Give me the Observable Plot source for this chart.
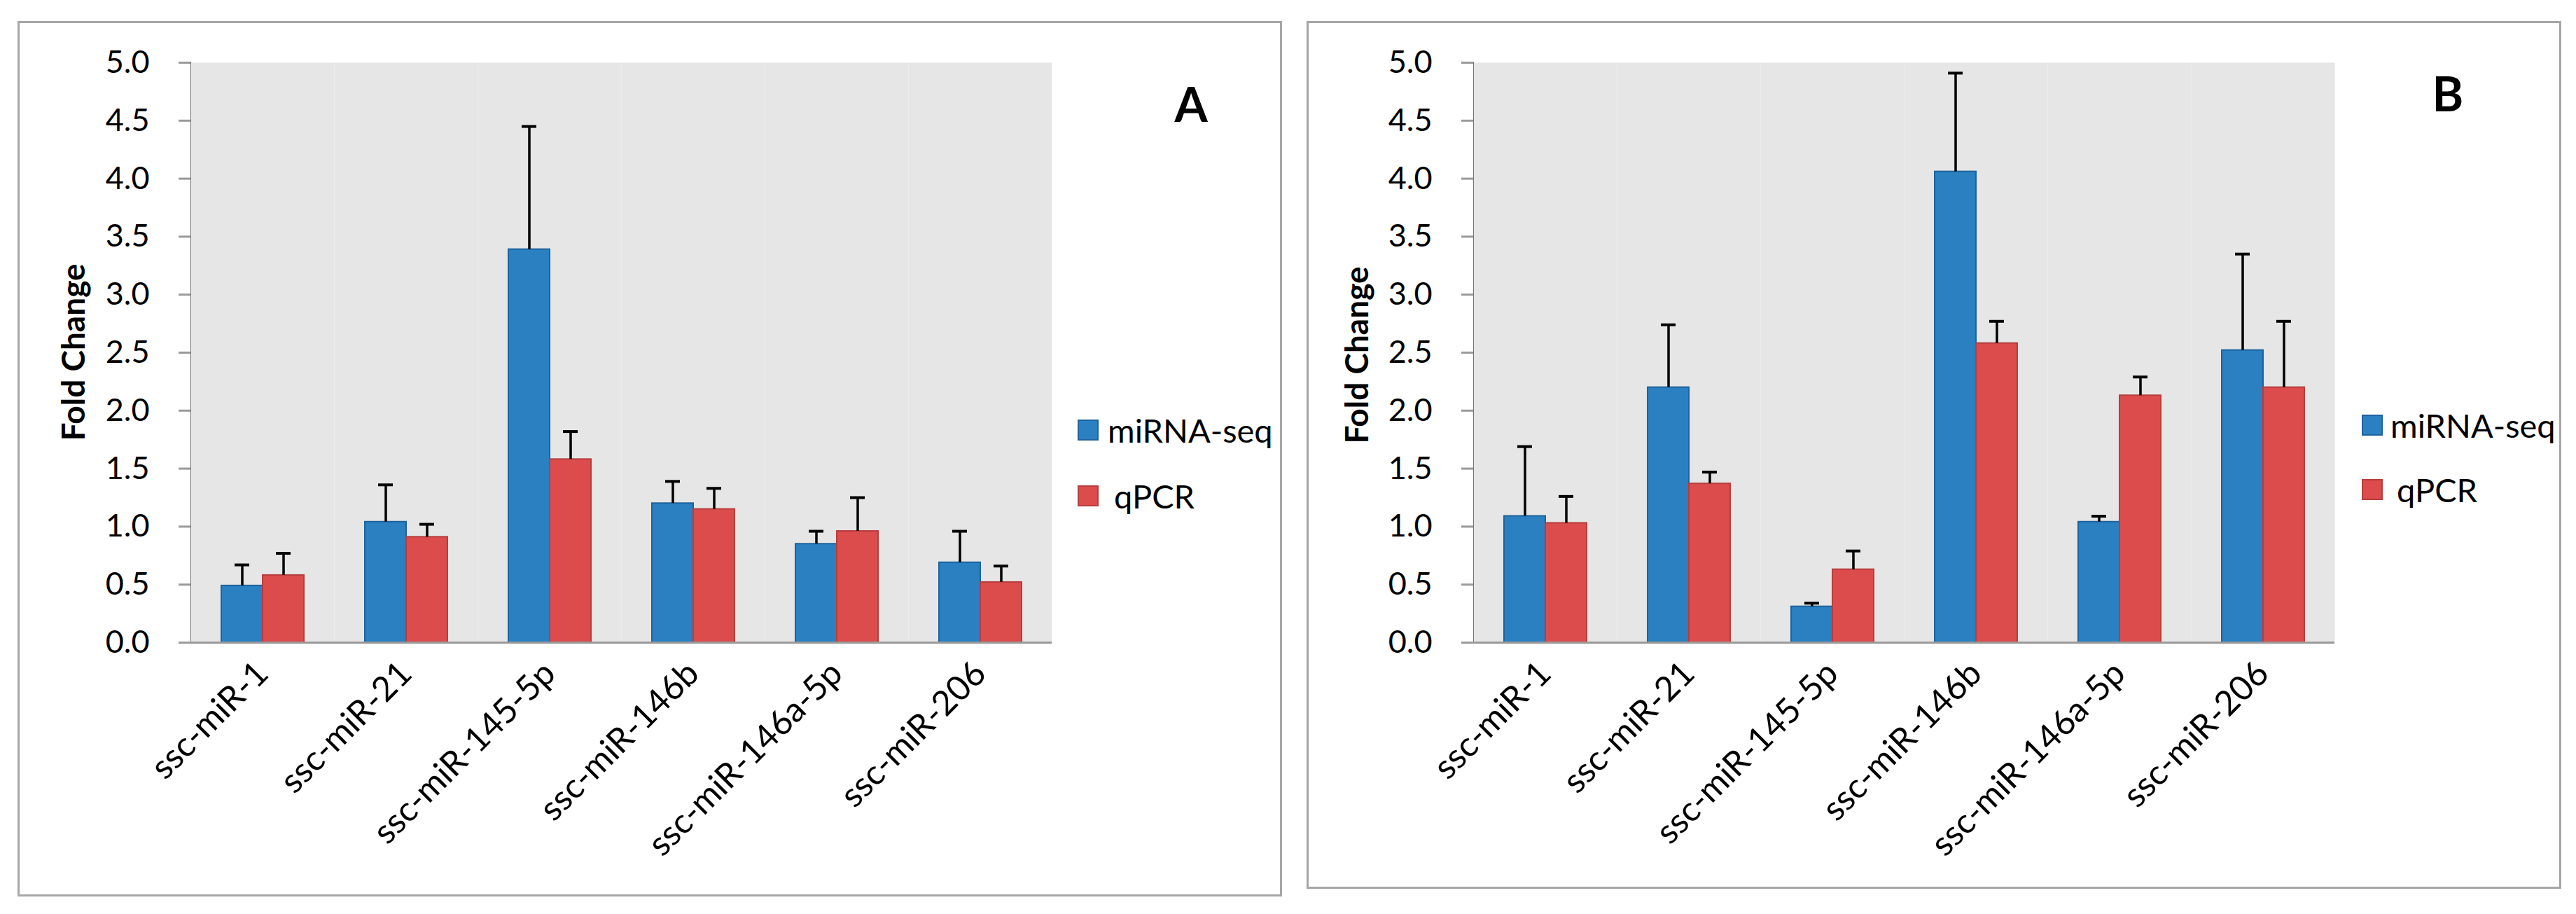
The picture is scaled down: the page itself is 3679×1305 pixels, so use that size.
<!DOCTYPE html>
<html>
<head>
<meta charset="utf-8">
<script src="https://cdn.jsdelivr.net/npm/d3@7"></script>
<script src="https://cdn.jsdelivr.net/npm/@observablehq/plot@0.6"></script>
<style>
  html, body { margin: 0; padding: 0; background: #fff; }
  body { width: 3679px; height: 1305px; position: relative; overflow: hidden; font-family: Lato, sans-serif; color: #000; }
  .box { position: absolute; border: 3px solid #a6a6a6; box-sizing: border-box; }
  .plot { position: absolute; }
  .plot svg { overflow: visible; }
  .plot [aria-label^="y-axis"] path, .plot [aria-label^="y-axis"] line { stroke: #9a9a9a !important; stroke-width: 3px; }
  .plot [aria-label^="fx-axis"] text { font-size: 49px; }
  .ylab { position: absolute; font-weight: bold; font-size: 46px; white-space: nowrap; transform: translate(-50%, -50%) rotate(-90deg); }
  .panel { position: absolute; font-weight: bold; font-size: 68px; line-height: 1; transform: translate(-50%, -50%); }
  .sw { position: absolute; width: 30px; height: 30px; box-sizing: border-box; border: 2px solid; }
  .lt { position: absolute; font-size: 47px; line-height: 1; transform: translateY(-50%); white-space: nowrap; }
</style>
</head>
<body>
<script>
// ---- data ----
const categories = ["ssc-miR-1", "ssc-miR-21", "ssc-miR-145-5p", "ssc-miR-146b", "ssc-miR-146a-5p", "ssc-miR-206"];
const series = ["miRNA-seq", "qPCR"];
const yTicks = [0, 0.5, 1.0, 1.5, 2.0, 2.5, 3.0, 3.5, 4.0, 4.5, 5.0];
const panelNames = ["A", "B"];
const yTitle = "Fold Change";

// Panel A
const seqA     = [0.49, 1.04, 3.39, 1.20, 0.85, 0.69];
const seqAErr  = [0.18, 0.32, 1.06, 0.19, 0.11, 0.27];
const qpcrA    = [0.58, 0.91, 1.58, 1.15, 0.96, 0.52];
const qpcrAErr = [0.19, 0.11, 0.24, 0.18, 0.29, 0.14];
// Panel B
const seqB     = [1.09, 2.20, 0.31, 4.06, 1.04, 2.52];
const seqBErr  = [0.60, 0.54, 0.03, 0.85, 0.05, 0.83];
const qpcrB    = [1.03, 1.37, 0.63, 2.58, 2.13, 2.20];
const qpcrBErr = [0.23, 0.10, 0.16, 0.19, 0.16, 0.57];

const fills   = ["#2a80c1", "#dc4c4c"];
const strokes = ["#1d639c", "#b83c3c"];

function makeTable(seq, seqErr, qp, qpErr) {
  return categories.flatMap((c, i) => [
    {cat: c, series: series[0], value: seq[i], upper: seq[i] + seqErr[i]},
    {cat: c, series: series[1], value: qp[i], upper: qp[i] + qpErr[i]}
  ]);
}

function makePlot(table, o) {
  return Plot.plot({
    width: o.width, height: o.height,
    marginLeft: o.marginLeft, marginRight: 0, marginTop: o.marginTop, marginBottom: o.marginBottom,
    style: {fontFamily: "Lato, sans-serif", fontSize: "45px", color: "#000", background: "transparent", overflow: "visible"},
    facet: {data: table, x: "cat"},
    fx: {domain: categories, padding: 0, axis: "bottom", label: null, tickRotate: -45, tickSize: 0, tickPadding: 36},
    x: {domain: series, axis: null, paddingInner: 0, paddingOuter: 0.72},
    y: {domain: [0, 5], ticks: yTicks, tickFormat: d3.format(".1f"), tickSize: 17, tickPadding: 42, line: true, label: null},
    marks: [
      Plot.frame({fill: "#e6e6e6", stroke: "none"}),
      ...series.map((s, k) => Plot.barY(table, {
        filter: d => d.series === s, x: "series", y: "value",
        fill: fills[k], stroke: strokes[k], strokeWidth: 2
      })),
      Plot.ruleX(table, {x: "series", y1: "value", y2: "upper", stroke: "#000", strokeWidth: 3.5}),
      Plot.tickY(table, {x: "series", y: "upper", stroke: "#000", strokeWidth: 4, insetLeft: 19, insetRight: 19}),
      Plot.ruleY([0], {stroke: "#9a9a9a", strokeWidth: 3})
    ]
  });
}

function el(cls, css, text) {
  const d = document.createElement("div");
  d.className = cls;
  Object.assign(d.style, css);
  if (text != null) d.textContent = text;
  document.body.appendChild(d);
  return d;
}

const layouts = [
  {box: [25, 30, 1806, 1250], svg: [26, 31], width: 1476, height: 1247, marginLeft: 246, marginTop: 58, marginBottom: 361,
   ylab: [103, 503], panel: [1701, 148], sw: [1539, 599, 693], txt: [1582, 614, 708]},
  {box: [1866, 30, 1792, 1239], svg: [1867, 31], width: 1467, height: 1236, marginLeft: 237, marginTop: 58, marginBottom: 350,
   ylab: [1936, 507], panel: [3496, 133], sw: [3373, 592, 684], txt: [3414, 607, 699]}
];

const tables = [makeTable(seqA, seqAErr, qpcrA, qpcrAErr), makeTable(seqB, seqBErr, qpcrB, qpcrBErr)];

layouts.forEach((L, i) => {
  el("box", {left: L.box[0] + "px", top: L.box[1] + "px", width: L.box[2] + "px", height: L.box[3] + "px"});
  const holder = el("plot", {left: L.svg[0] + "px", top: L.svg[1] + "px"});
  holder.appendChild(makePlot(tables[i], L));
  el("ylab", {left: L.ylab[0] + "px", top: L.ylab[1] + "px"}, yTitle);
  el("panel", {left: L.panel[0] + "px", top: L.panel[1] + "px"}, panelNames[i]);
  series.forEach((s, k) => {
    el("sw", {left: L.sw[0] + "px", top: L.sw[1 + k] + "px", background: fills[k], borderColor: strokes[k]});
    el("lt", {left: (L.txt[0] + (k === 1 ? 9 : 0)) + "px", top: L.txt[1 + k] + "px"}, s);
  });
});
</script>
</body>
</html>
